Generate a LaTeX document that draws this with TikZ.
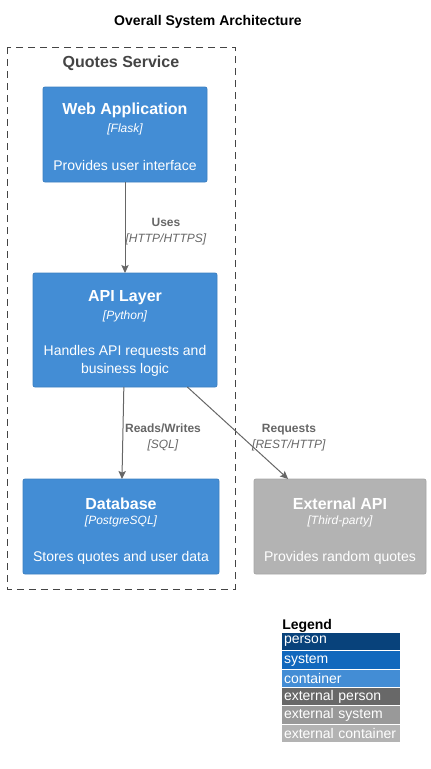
\documentclass[tikz,border=0pt]{standalone}
\usepackage{fontspec}
\setmainfont{Liberation Sans}
\usetikzlibrary{arrows.meta}
\definecolor{containerblue}{HTML}{438DD5}
\definecolor{containerline}{HTML}{3C7FC0}
\definecolor{extgray}{HTML}{B3B3B3}
\definecolor{extline}{HTML}{A6A6A6}
\definecolor{relgray}{HTML}{666666}
\definecolor{boundgray}{HTML}{444444}
\definecolor{lgperson}{HTML}{08427B}
\definecolor{lgsystem}{HTML}{1168BD}
\definecolor{lgcontainer}{HTML}{438DD5}
\definecolor{lgextperson}{HTML}{686868}
\definecolor{lgextsystem}{HTML}{999999}
\definecolor{lgextcontainer}{HTML}{B3B3B3}

\begin{document}
\begin{tikzpicture}[x=0.75pt,y=0.75pt,yscale=-1,xscale=1,
  cbox/.style={draw=containerline, fill=containerblue, line width=0.6pt, rounded corners=1.5pt, inner sep=0pt, outer sep=0pt},
  ebox/.style={cbox, draw=extline, fill=extgray},
  ctitle/.style={text=white, font=\fontsize{12}{14}\selectfont\bfseries, inner sep=0pt},
  ctech/.style={text=white, font=\fontsize{9}{11}\selectfont\itshape, inner sep=0pt},
  cdesc/.style={text=white, font=\fontsize{10.5}{13.5}\selectfont, align=center, inner sep=0pt},
  rel/.style={draw=relgray, line width=0.75pt, -{Stealth[length=6pt,width=5.5pt,inset=1.2pt]}},
  rellabel/.style={text=relgray, font=\fontsize{9}{12}\selectfont, align=center, inner sep=0pt},
  legrow/.style={anchor=north west, text=white, font=\fontsize{10.5}{12}\selectfont, text width=85.5pt, align=left, inner xsep=1.5pt, inner ysep=0pt, minimum height=13pt, outer sep=0pt}]
\useasboundingbox (0,0) rectangle (430,769);

%Title
\node[font=\fontsize{10.5}{12}\selectfont\bfseries, inner sep=0pt] (title) at (208,22) {Overall System Architecture};

%Boundary
\draw[boundgray, line width=0.75pt, dash pattern={on 5pt off 4pt}] (7,47) rectangle (235,589);
\node[text=boundgray, font=\fontsize{12}{14}\selectfont\bfseries, inner sep=0pt] (bound) at (121,63) {Quotes Service};

%Web Application
\node[cbox, minimum width=123pt, minimum height=71.25pt] (web) at (125,134.5) {};
\node[ctitle] (webT) at (125,110) {Web Application};
\node[ctech] (webK) at (125,129) {[Flask]};
\node[cdesc] (webD) at (125,165) {Provides user interface};

%API Layer
\node[cbox, minimum width=138pt, minimum height=85.5pt] (api) at (125,330) {};
\node[ctitle] (apiT) at (125,298) {API Layer};
\node[ctech] (apiK) at (125,316) {[Python]};
\node[cdesc] (apiD) at (125,361) {Handles API requests and\\business logic};

%Database
\node[cbox, minimum width=147pt, minimum height=71.25pt] (db) at (121,526.5) {};
\node[ctitle] (dbT) at (121,504) {Database};
\node[ctech] (dbK) at (121,521) {[PostgreSQL]};
\node[cdesc] (dbD) at (121,558) {Stores quotes and user data};

%External API
\node[ebox, minimum width=129pt, minimum height=71.25pt] (ext) at (340,526.5) {};
\node[ctitle] (extT) at (340,504) {External API};
\node[ctech] (extK) at (340,521) {[Third-party]};
\node[cdesc] (extD) at (340,558) {Provides random quotes};

%Relations
\draw[rel] (web) -- (api);
\node[rellabel] (usesL) at (166,231.5) {\textbf{Uses}\\\textit{[HTTP/HTTPS]}};
\draw[rel] (api) -- (db);
\node[rellabel] (rwL) at (163,437.5) {\textbf{Reads/Writes}\\\textit{[SQL]}};
\draw[rel] (api) -- (ext);
\node[rellabel] (reqL) at (289,437.5) {\textbf{Requests}\\\textit{[REST/HTTP]}};

%Legend
\node[anchor=west, font=\fontsize{10.5}{12}\selectfont\bfseries, inner sep=0pt] (legT) at (282,626) {Legend};
\foreach \clr/\txt [count=\i from 0] in {lgperson/person, lgsystem/system, lgcontainer/container, lgextperson/external person, lgextsystem/external system, lgextcontainer/external container}
  \node[legrow, fill=\clr] (leg\i) at (282,{633+18.3*\i}) {\mbox{\txt}};

\end{tikzpicture}
\end{document}
